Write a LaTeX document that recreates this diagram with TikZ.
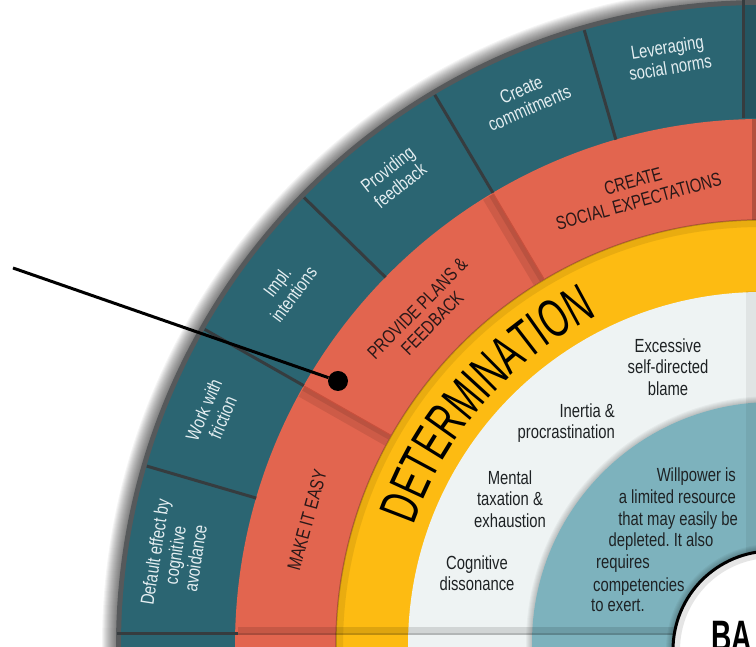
\documentclass[tikz,border=0pt]{standalone}
\usepackage{fontspec}
\setmainfont{Liberation Sans}
\newfontfamily\nf[FakeStretch=0.78]{Liberation Sans}
\newfontfamily\detf[FakeStretch=0.64]{Liberation Sans}
\newfontfamily\baf[FakeStretch=0.64]{Liberation Sans}
\usetikzlibrary{decorations.text}
\definecolor{tealdark}{HTML}{2B6572}
\definecolor{tealsep}{HTML}{363C3F}
\definecolor{ringborder}{HTML}{56595B}
\definecolor{redring}{HTML}{E2654F}
\definecolor{redline}{HTML}{C9503D}
\definecolor{yellowring}{HTML}{FDBB12}
\definecolor{palegray}{HTML}{EEF3F3}
\definecolor{lightteal}{HTML}{7DB2BD}
\definecolor{tealtext}{HTML}{E4EEF1}
\definecolor{darktext}{HTML}{2A1818}
\definecolor{bodytext}{HTML}{1E2224}
\begin{document}
\frenchspacing
\begin{tikzpicture}[x=1pt,y=1pt,
  tealtxt/.style={text=tealtext, font=\nf\frenchspacing\fontsize{19}{20.5}\selectfont, align=center, inner sep=0},
  redtxt/.style={text=darktext, font=\nf\frenchspacing\fontsize{19}{21}\selectfont, align=center, inner sep=0},
  bodytxt/.style={text=bodytext, font=\nf\frenchspacing\fontsize{19}{21.5}\selectfont, inner sep=0},
  bodyline/.style={bodytxt, text height=14pt, text depth=4pt},
  sepline/.style={tealsep, line width=3pt},
]
\useasboundingbox (0,0) rectangle (756,647);
\clip (0,0) rectangle (756,647);
\fill[white] (0,0) rectangle (756,647);
% ---------- main rings ----------
\begin{scope}[shift={(762,1)}]
  \foreach \i in {0,...,13} \fill[black, opacity=0.045] (0,0) circle[radius=660-\i];
  \fill[ringborder] (0,0) circle[radius=646];
  \fill[tealdark] (0,0) circle[radius=641];
  \fill[redring] (0,0) circle[radius=527];
  \fill[yellowring] (0,0) circle[radius=426];
  \draw[black, opacity=0.08, line width=6pt] (0,0) circle[radius=422];
  \draw[black, opacity=0.25, line width=1.5pt] (0,0) circle[radius=426];
  \fill[palegray] (0,0) circle[radius=354];
  % teal separators
  \foreach \a in {106.1,120.7,135.6,150.4,163.7} \draw[sepline] (\a:527) -- (\a:641);
  % red separators with shadow
  \foreach \a in {120.7,150.4} {
    \begin{scope}[rotate=\a]
      \fill[black, opacity=0.09] (427,0) rectangle (526,12);
      \fill[black, opacity=0.09] (427,0) rectangle (526,5);
      \draw[redline, line width=1pt] (427,0) -- (526,0);
    \end{scope}
  }
  % DETERMINATION
  \path[decorate, decoration={text along path, text align=center,
      text={|\detf\fontsize{54}{54}\selectfont|DETERMINATION}}]
      (178.7:369) arc[start angle=178.7, end angle=98.7, radius=369];
  % teal ring labels
  \node[tealtxt, rotate=9]     (t1) at (99:596)     {Leveraging\\social norms};
  \node[tealtxt, rotate=23.4]  (t2) at (113.4:596)  {Create\\commitments};
  \node[tealtxt, rotate=38.15] (t3) at (128.15:596) {Providing\\feedback};
  \node[tealtxt, rotate=53.1]  (t4) at (143.1:596)  {Impl.\\intentions};
  \node[tealtxt, rotate=67.05] (t5) at (157.05:596) {Work with\\friction};
  \node[tealtxt, rotate=81.2]  (t6) at (171.2:594)  {Default effect by\\cognitive\\avoidance};
  % red ring labels
  \node[redtxt, rotate=15.5]  (r1) at (105.5:472)  {CREATE\\SOCIAL EXPECTATIONS};
  \node[redtxt, rotate=45.6]  (r2) at (135.6:472)  {PROVIDE PLANS \&\\FEEDBACK};
  \node[redtxt, rotate=74.55] (r3) at (164.55:472) {MAKE IT EASY};
\end{scope}
% right edge separator and shadows
\draw[sepline] (743,529) -- (743,647);
\fill[black, opacity=0.15] (744.5,529) rectangle (756,642);
\fill[black, opacity=0.2] (752,427) rectangle (756,528);
% ---------- inner circles ----------
\begin{scope}[shift={(773,4)}]
  \foreach \i in {1,...,6} \fill[black, opacity=0.035] (0,0) circle[radius=241+\i];
  \fill[lightteal] (0,0) circle[radius=241];
\end{scope}
\fill[black, opacity=0.06] (746,0) rectangle (756,356);
% bottom separator
\draw[sepline] (117,13) -- (238,13);
\draw[black, opacity=0.12, line width=6pt] (238,17) -- (690,17);
\draw[black, opacity=0.25, line width=2.5pt] (238,13) -- (690,13);
% white centre circle
\begin{scope}[shift={(772,-3)}]
  \foreach \i in {1,...,6} \fill[black, opacity=0.04] (0,0) circle[radius=100+\i];
  \fill[white] (0,0) circle[radius=99];
  \draw[black!10, line width=6pt] (0,0) circle[radius=95];
  \draw[black, line width=3pt] (0,0) circle[radius=99];
\end{scope}
\node[anchor=base west, inner sep=0, font=\baf\bfseries\fontsize{44}{44}\selectfont] (ba) at (711,-4.5) {BA};
% ---------- body texts ----------
\node[bodytxt, align=center] (b1) at (668,280) {Excessive\\self-directed\\blame};
\node[bodytxt, align=right, anchor=east] (b2) at (615,224) {Inertia \&\\procrastination};
\node[bodytxt, align=center] (b3) at (510,148) {Mental\\taxation \&\\exhaustion};
\node[bodytxt, align=center] (b4) at (477,74) {Cognitive\\dissonance};
\node[bodyline, anchor=east] (w1) at (736,170) {Willpower is};
\node[bodyline, anchor=east] (w2) at (736,148) {a limited resource};
\node[bodyline, anchor=east] (w3) at (738,126) {that may easily be};
\node[bodyline] (w4) at (661,105) {depleted. It also};
\node[bodyline, anchor=west] (w5) at (596,83) {requires};
\node[bodyline, anchor=west] (w6) at (593,60) {competencies};
\node[bodyline, anchor=west] (w7) at (591,40) {to exert.};
% ---------- pointer ----------
\coordinate (pstart) at (13,379);
\node[circle, fill=black, minimum size=20pt, inner sep=0] (dot) at (338,266) {};
\draw[line width=3pt] (pstart) -- (dot);
\end{tikzpicture}
\end{document}
